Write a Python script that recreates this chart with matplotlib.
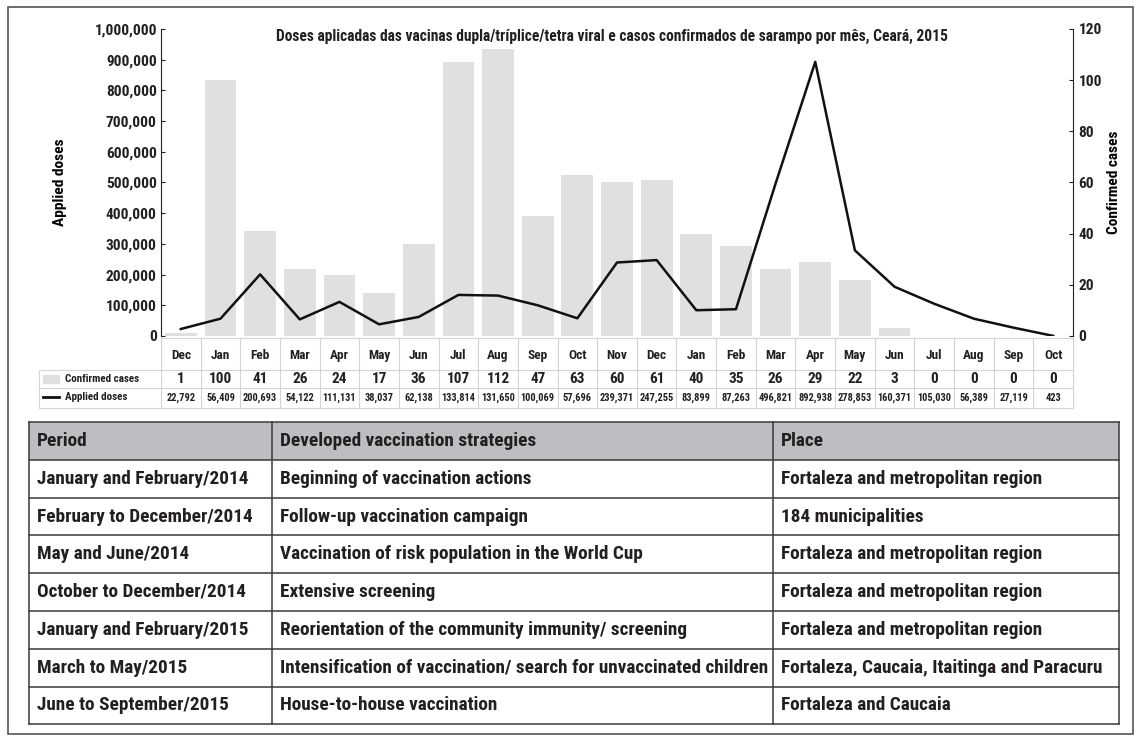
import matplotlib.pyplot as plt
import matplotlib.transforms as mtransforms
from matplotlib import font_manager as fm
from matplotlib.patches import Rectangle
from matplotlib.ticker import FuncFormatter

months = ['Dec', 'Jan', 'Feb', 'Mar', 'Apr', 'May', 'Jun', 'Jul', 'Aug', 'Sep', 'Oct', 'Nov',
          'Dec', 'Jan', 'Feb', 'Mar', 'Apr', 'May', 'Jun', 'Jul', 'Aug', 'Sep', 'Oct']
cases = [1, 100, 41, 26, 24, 17, 36, 107, 112, 47, 63, 60, 61, 40, 35, 26, 29, 22, 3, 0, 0, 0, 0]
doses = [22792, 56409, 200693, 54122, 111131, 38037, 62138, 133814, 131650, 100069, 57696,
         239371, 247255, 83899, 87263, 496821, 892938, 278853, 160371, 105030, 56389, 27119, 423]

title = ('Doses aplicadas das vacinas dupla/tríplice/tetra viral e casos confirmados '
         'de sarampo por mês, Ceará, 2015')

header = ['Period', 'Developed vaccination strategies', 'Place']
periods = ['January and February/2014', 'February to December/2014', 'May and June/2014',
           'October to December/2014', 'January and February/2015', 'March to May/2015',
           'June to September/2015']
strategies = ['Beginning of vaccination actions', 'Follow-up vaccination campaign',
              'Vaccination of risk population in the World Cup', 'Extensive screening',
              'Reorientation of the community immunity/ screening',
              'Intensification of vaccination/ search for unvaccinated children',
              'House-to-house vaccination']
places = ['Fortaleza and metropolitan region', '184 municipalities',
          'Fortaleza and metropolitan region', 'Fortaleza and metropolitan region',
          'Fortaleza and metropolitan region', 'Fortaleza, Caucaia, Itaitinga and Paracuru',
          'Fortaleza and Caucaia']

# look for a condensed face, the original uses a condensed bold font
names = {f.name for f in fm.fontManager.ttflist}
family, stretch = 'DejaVu Sans', 'normal'
for cand in ['Liberation Sans Narrow', 'Roboto Condensed', 'Open Sans Condensed',
             'Noto Sans Condensed', 'DejaVu Sans Condensed', 'Arial Narrow']:
    if cand in names:
        family = cand
        break
else:
    narrow = ('condensed', 'semi-condensed', 'extra-condensed', 'ultra-condensed')
    for f in fm.fontManager.ttflist:
        st = f.stretch
        if (isinstance(st, str) and st in narrow) or (isinstance(st, int) and st < 100):
            family, stretch = f.name, st
            break

plt.rcParams['font.family'] = [family, 'DejaVu Sans']
plt.rcParams['font.stretch'] = stretch
plt.rcParams['font.weight'] = 'bold'
plt.rcParams['axes.labelweight'] = 'bold'
plt.rcParams['text.color'] = '#231f20'

W, H = 1140, 737
fig = plt.figure(figsize=(W / 100, H / 100), dpi=100)
renderer = fig.canvas.get_renderer()


def px_rect(x0, y0, x1, y1):
    return [x0 / W, 1 - y1 / H, (x1 - x0) / W, (y1 - y0) / H]


def fit_size(s, target, cap=None):
    # font size that makes text s about target pixels wide
    t = fig.text(0, 0, s, fontsize=10)
    w = t.get_window_extent(renderer).width
    t.remove()
    size = 10 * target / w
    return min(size, cap) if cap else size


# pixel canvas for the frame, title and tables
canvas = fig.add_axes([0, 0, 1, 1])
canvas.set_xlim(0, W)
canvas.set_ylim(H, 0)
canvas.axis('off')
canvas.set_zorder(0)

ax = fig.add_axes(px_rect(161, 29, 1073, 336))
axr = ax.twinx()
ax.set_zorder(2)
axr.set_zorder(1)
ax.patch.set_visible(False)
axr.patch.set_visible(False)

x = list(range(len(months)))
axr.bar(x, cases, width=0.8, color='#e0e0e0')
axr.set_ylim(0, 120)
ax.plot(x, doses, color='#111111', lw=1.8)
ax.set_ylim(0, 1000000)
ax.set_xlim(-0.5, len(months) - 0.5)

for a in (ax, axr):
    for s in ('top', 'bottom'):
        a.spines[s].set_visible(False)
    a.set_xticks([])
ax.spines['right'].set_visible(False)
axr.spines['left'].set_visible(False)
ax.spines['left'].set_color('#231f20')
axr.spines['right'].set_color('#231f20')

tick_size = fit_size('1,000,000', 62, cap=12)
ax.yaxis.set_major_formatter(FuncFormatter(lambda v, p: f'{int(v):,}'))
ax.set_yticks(range(0, 1000001, 100000))
axr.set_yticks(range(0, 121, 20))
ax.tick_params(axis='y', direction='in', length=3, labelsize=tick_size, colors='#231f20', pad=3)
axr.tick_params(axis='y', direction='in', length=3, labelsize=tick_size, colors='#231f20', pad=4)

label_size = fit_size('Confirmed cases', 104, cap=13)
ax.set_ylabel('Applied doses', fontsize=label_size, fontweight='bold')
ax.yaxis.set_label_coords(-0.103, 0.5)
axr.set_ylabel('Confirmed cases', fontsize=label_size, fontweight='bold')
axr.yaxis.set_label_coords(1.037, 0.5)

canvas.text(612, 36, title, ha='center', va='center', fontsize=fit_size(title, 676))

# data table under the chart
grid = '#d4d4d4'
trans = mtransforms.blended_transform_factory(ax.transData, canvas.transData)
canvas.plot([161, 1073], [338, 338], color=grid, lw=0.8)
for yy in (370, 388, 408):
    canvas.plot([39, 1073], [yy, yy], color=grid, lw=0.8)
canvas.plot([39, 39], [370, 408], color=grid, lw=0.8)
for i in range(len(months) + 1):
    canvas.plot([i - 0.5, i - 0.5], [338, 408], color=grid, lw=0.8, transform=trans)

month_size = fit_size('Dec', 20, cap=11)
case_size = fit_size('100', 27, cap=11)
dose_size = fit_size('200,693', 34, cap=8)
for i, m in enumerate(months):
    canvas.text(i, 355, m, ha='center', va='center', fontsize=month_size, transform=trans)
    canvas.text(i, 379, str(cases[i]), ha='center', va='center', fontsize=case_size,
                transform=trans)
    canvas.text(i, 398, f'{doses[i]:,}', ha='center', va='center', fontsize=dose_size,
                transform=trans)

leg_size = fit_size('Confirmed cases', 74, cap=9)
canvas.add_patch(Rectangle((43, 375), 16, 8, color='#e0e0e0'))
canvas.plot([43, 59], [397, 397], color='#111111', lw=2)
canvas.text(65, 379, 'Confirmed cases', ha='left', va='center', fontsize=leg_size)
canvas.text(65, 397, 'Applied doses', ha='left', va='center', fontsize=leg_size)

# strategies table
cols = [29, 272, 773, 1119]
rows = [422, 460, 498, 535, 573, 611, 649, 687, 724]
line = '#3a3a3a'
canvas.add_patch(Rectangle((cols[0], rows[0]), cols[-1] - cols[0], rows[1] - rows[0],
                           facecolor='#bcbec1', edgecolor='none'))
for yy in rows:
    canvas.plot([cols[0], cols[-1]], [yy, yy], color=line, lw=1.1)
for xx in cols:
    canvas.plot([xx, xx], [rows[0], rows[-1]], color=line, lw=1.1)

table_size = min(fit_size('February to December/2014', 225),
                 fit_size('Intensification of vaccination/ search for unvaccinated children', 488),
                 fit_size('Fortaleza, Caucaia, Itaitinga and Paracuru', 330))
table_rows = [header] + [list(r) for r in zip(periods, strategies, places)]
for r, vals in enumerate(table_rows):
    yc = (rows[r] + rows[r + 1]) / 2
    for c, txt in enumerate(vals):
        canvas.text(cols[c] + 8, yc, txt, ha='left', va='center', fontsize=table_size)

canvas.add_patch(Rectangle((8, 7), 1125, 727, fill=False, edgecolor='#555555', lw=1.2))

fig.savefig('out.png', dpi=100)
